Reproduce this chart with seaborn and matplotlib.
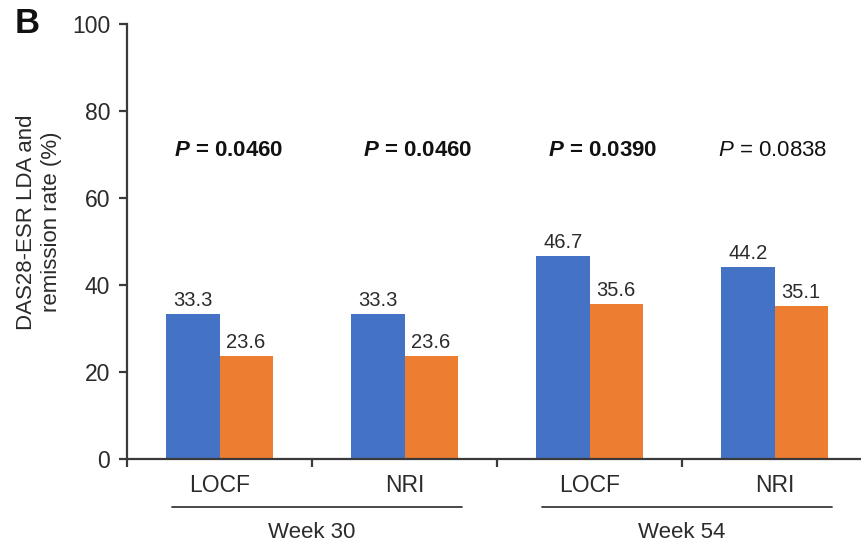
import matplotlib
matplotlib.use("Agg")
import matplotlib.pyplot as plt
import matplotlib.transforms as mtransforms
import numpy as np
import pandas as pd
import seaborn as sns

# ---- data -------------------------------------------------------------
weeks = ["Week 30", "Week 30", "Week 54", "Week 54"]
methods = ["LOCF", "NRI", "LOCF", "NRI"]
arm_a = [33.3, 33.3, 46.7, 44.2]
arm_b = [23.6, 23.6, 35.6, 35.1]
arm_names = ["Arm A", "Arm B"]
p_values = ["0.0460", "0.0460", "0.0390", "0.0838"]
p_significant = [True, True, True, False]
y_ticks = [0, 20, 40, 60, 80, 100]

# ---- styling ----------------------------------------------------------
sns.set_style("ticks")
plt.rcParams["font.family"] = ["Liberation Sans", "DejaVu Sans"]
plt.rcParams["mathtext.fontset"] = "custom"
plt.rcParams["mathtext.it"] = "Liberation Sans:italic"
plt.rcParams["mathtext.bfit"] = "Liberation Sans:italic:bold"
plt.rcParams["mathtext.rm"] = "Liberation Sans"

BLUE = "#4472C4"
ORANGE = "#ED7D31"
INK = "#2b2b2b"
AXIS = "#3a3a3a"

keys = [f"{w} {m}" for w, m in zip(weeks, methods)]
df = pd.DataFrame({
    "key": keys * 2,
    "rate": arm_a + arm_b,
    "arm": [arm_names[0]] * len(keys) + [arm_names[1]] * len(keys),
})

fig = plt.figure(figsize=(8.61, 5.46), dpi=100)
ax = fig.add_axes([127 / 861, 87 / 546, 740 / 861, 435 / 546])

sns.barplot(data=df, x="key", y="rate", hue="arm", order=keys,
            hue_order=arm_names, palette=[BLUE, ORANGE], saturation=1,
            width=0.573, linewidth=0, errorbar=None, legend=False, ax=ax)

ax.set_xlim(-0.5, len(keys) - 0.5)
ax.set_ylim(0, 100)
ax.set_yticks(y_ticks)
ax.set_xticks(range(len(keys)))
ax.set_xticklabels(methods)
ax.set_xticks(np.arange(len(keys)) - 0.5, minor=True)
ax.tick_params(axis="x", which="major", length=0, pad=11, labelsize=16.5, labelcolor=INK)
ax.tick_params(axis="x", which="minor", length=6, width=1.6, color=AXIS, direction="out")
ax.tick_params(axis="y", length=6, width=1.6, color=AXIS, pad=6, labelsize=16.5, labelcolor=INK)
ax.set_xlabel("")
ax.set_ylabel("DAS28-ESR LDA and\nremission rate (%)", fontsize=16, color=INK, va="center")
ax.yaxis.set_label_coords(-0.119, 0.545)
sns.despine(ax=ax)
for side in ("left", "bottom"):
    ax.spines[side].set_color(AXIS)
    ax.spines[side].set_linewidth(1.6)

# value labels on top of each bar
for container in ax.containers:
    ax.bar_label(container, fmt="%.1f", padding=3, fontsize=14.5, color=INK)

# P-value annotations above each pair
p_offsets = [0.05, 0.07, 0.07, -0.01]
for i, (p, sig) in enumerate(zip(p_values, p_significant)):
    if sig:
        label = r"$\mathbfit{P}$ = " + p
        weight = "bold"
    else:
        label = r"$\mathit{P}$ = " + p
        weight = "normal"
    ax.text(i + p_offsets[i], 71, label, ha="center", va="center",
            fontsize=16, fontweight=weight, color="#111111")

# week brackets under the category labels
trans = mtransforms.blended_transform_factory(ax.transData, ax.transAxes)
week_names = list(dict.fromkeys(weeks))
for w in week_names:
    idx = [i for i, ww in enumerate(weeks) if ww == w]
    x0, x1 = idx[0] - 0.255, idx[-1] + 0.31
    ax.plot([x0, x1], [-0.110, -0.110], transform=trans, color=AXIS,
            lw=1.3, clip_on=False)
    ax.text((idx[0] + idx[-1]) / 2, -0.168, w, transform=trans,
            ha="center", va="center", fontsize=16, color=INK)

fig.text(15 / 861, 1 - 33 / 546, "B", fontsize=25, fontweight="bold",
         color="#111111", ha="left", va="baseline")

fig.savefig("out.png", dpi=100)
